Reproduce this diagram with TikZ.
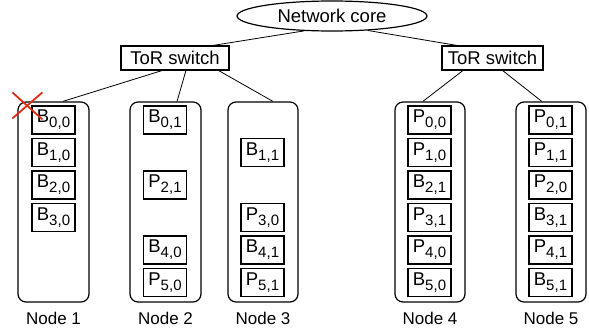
\documentclass[tikz,border=0pt]{standalone}
\usepackage{fontspec}
\setmainfont{Liberation Sans}
\usepackage{tikz}
\usetikzlibrary{shapes.geometric, calc}
\definecolor{cRed}{RGB}{222,45,20}
\tikzset{
	core/.style ={ellipse, draw=black, line width=1.2pt, minimum width=190pt, minimum height=30pt, inner sep=0pt},
	tor/.style  ={rectangle, draw=black, line width=1.2pt, minimum height=24pt, inner sep=0pt},
	host/.style ={rectangle, rounded corners=8pt, draw=black, line width=1.2pt, minimum width=70pt, minimum height=200pt},
	blk/.style  ={rectangle, draw=black, line width=1.2pt, minimum width=43pt, minimum height=28pt, inner sep=0pt},
	hostlbl/.style={font=\fontsize{17}{20}\selectfont},
	link/.style ={line width=0.8pt},
	cross/.style={cRed, line width=1.8pt},
}
\newcommand{\chunk}[2]{#1\raisebox{-5pt}{\fontsize{15}{15}\selectfont #2}}

\begin{document}
\begin{tikzpicture}[x=1pt, y=-1pt, font=\fontsize{18.5}{21}\selectfont]
	\useasboundingbox (0,0) rectangle (589,332);
	% core and top-of-rack switches
	\node[core] (core) at (332,16) {Network core};
	\node[tor, minimum width=108pt] (torL) at (175,58) {ToR switch};
	\node[tor, minimum width=101pt] (torR) at (492.5,58) {ToR switch};
	% hosts
	\node[host, minimum width=71pt] (n1) at (53.5,202) {};
	\node[host, minimum width=71pt] (n2) at (165.5,202) {};
	\node[host] (n3) at (263,202) {};
	\node[host] (n4) at (430,202) {};
	\node[host] (n5) at (551,202) {};
	\node[hostlbl] (l1) at (53.5,318) {Node 1};
	\node[hostlbl] (l2) at (165.5,318) {Node 2};
	\node[hostlbl] (l3) at (263,318) {Node 3};
	\node[hostlbl] (l4) at (430,318) {Node 4};
	\node[hostlbl] (l5) at (551,318) {Node 5};
	% blocks on each host
	\foreach \r/\b/\i in {0/B/{0,0}, 1/B/{1,0}, 2/B/{2,0}, 3/B/{3,0}}
		\node[blk] (b1\r) at (53.5,120+32.5*\r) {\chunk{\b}{\i}};
	\foreach \r/\b/\i in {0/B/{0,1}, 2/P/{2,1}, 4/B/{4,0}, 5/P/{5,0}}
		\node[blk] (b2\r) at (165,120+32.5*\r) {\chunk{\b}{\i}};
	\foreach \r/\b/\i in {1/B/{1,1}, 3/P/{3,0}, 4/B/{4,1}, 5/P/{5,1}}
		\node[blk] (b3\r) at (262.5,120+32.5*\r) {\chunk{\b}{\i}};
	\foreach \r/\b/\i in {0/P/{0,0}, 1/P/{1,0}, 2/B/{2,1}, 3/P/{3,1}, 4/P/{4,0}, 5/B/{5,0}}
		\node[blk] (b4\r) at (429.5,120+32.5*\r) {\chunk{\b}{\i}};
	\foreach \r/\b/\i in {0/P/{0,1}, 1/P/{1,1}, 2/P/{2,0}, 3/B/{3,1}, 4/P/{4,1}, 5/B/{5,1}}
		\node[blk] (b5\r) at (550.5,120+32.5*\r) {\chunk{\b}{\i}};
	% links
	\draw[link] (core.208) -- ($(torL.north west)!0.85!(torL.north east)$);
	\draw[link] (core.338) -- ($(torR.north west)!0.15!(torR.north east)$);
	\draw[link] ($(torL.south west)!0.38!(torL.south east)$) -- ($(n1.north west)!0.63!(n1.north east)$);
	\draw[link] ($(torL.south west)!0.60!(torL.south east)$) -- ($(n2.north west)!0.66!(n2.north east)$);
	\draw[link] ($(torL.south west)!0.90!(torL.south east)$) -- ($(n3.north west)!0.64!(n3.north east)$);
	\draw[link] ($(torR.south west)!0.21!(torR.south east)$) -- ($(n4.north west)!0.40!(n4.north east)$);
	\draw[link] ($(torR.south west)!0.60!(torR.south east)$) -- ($(n5.north west)!0.37!(n5.north east)$);
	% failed block
	\draw[cross] ([shift={(-19,-13)}]b10.north west) -- ([shift={(11,14)}]b10.north west)
		([shift={(-19,13)}]b10.north west) -- ([shift={(11,-13)}]b10.north west);
\end{tikzpicture}
\end{document}
